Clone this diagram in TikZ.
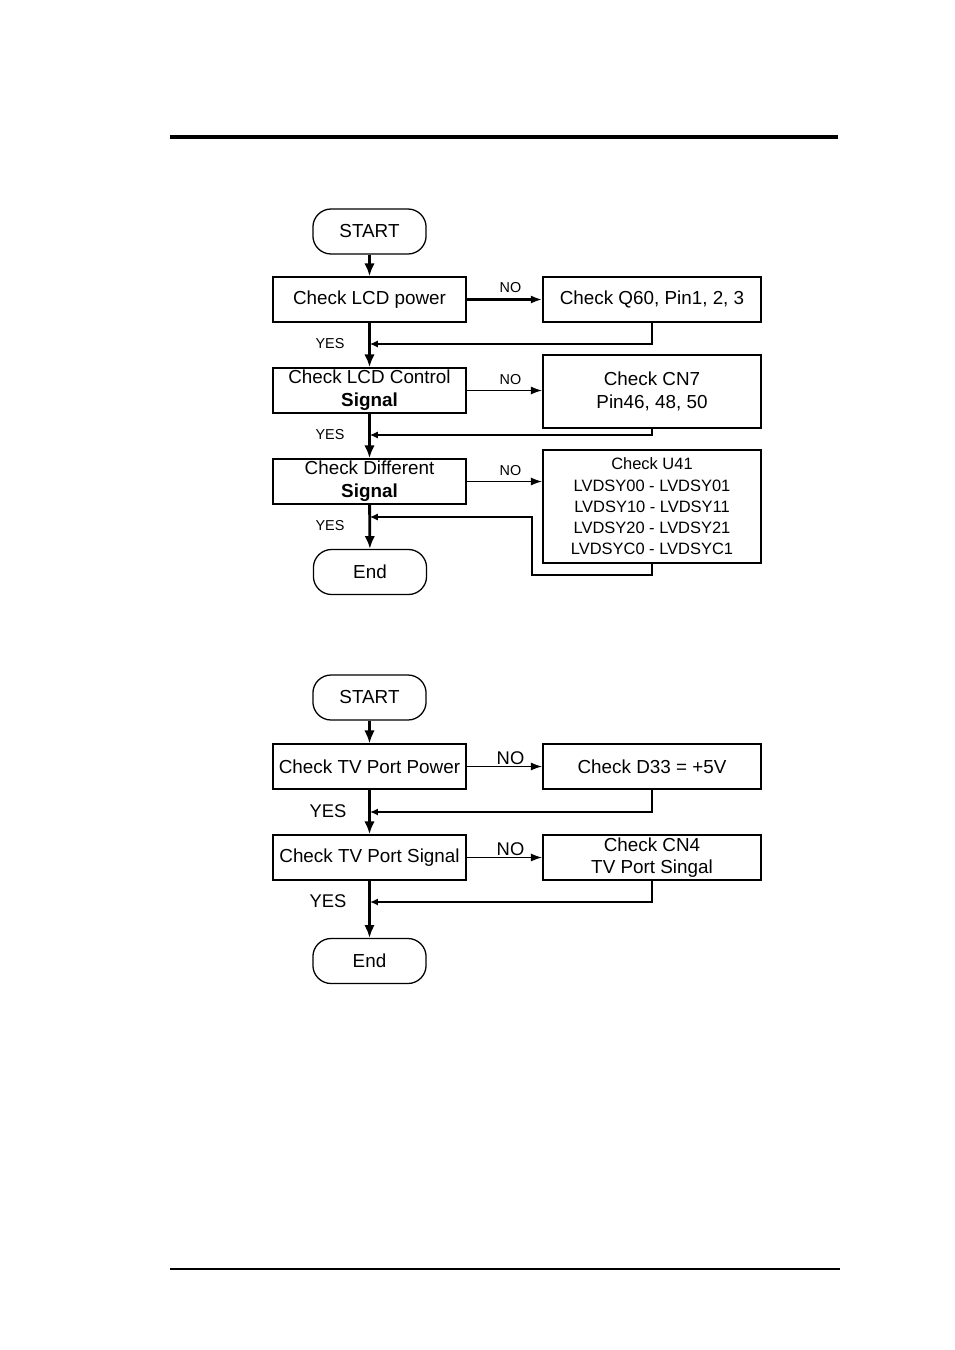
\documentclass[tikz,border=0pt]{standalone}
\usepackage{fontspec}
\setmainfont{Liberation Sans}
\usetikzlibrary{shapes.geometric, arrows.meta}

\begin{document}
\begin{tikzpicture}[x=0.22mm, y=-0.22mm]

  \tikzstyle{startstop} = [rectangle, rounded corners=4mm, minimum width=24.9mm, minimum height=9.9mm, inner sep=0pt, text centered, draw=black, line width=0.8pt, font=\fontsize{11.8}{14}\selectfont]
  \tikzstyle{process} = [rectangle, minimum width=42.5mm, minimum height=9.9mm, inner sep=0pt, align=center, draw=black, line width=1pt, font=\fontsize{11.8}{14.4}\selectfont]
  \tikzstyle{fix} = [process, minimum width=48mm]
  \tikzstyle{label} = [font=\fontsize{9}{10}\selectfont]
  \tikzstyle{biglabel} = [font=\fontsize{11.5}{13}\selectfont]

  \tikzstyle{arrow} = [line width=1.8pt, -{Latex[length=8pt, width=6.5pt]}]
  \tikzstyle{noarrow} = [line width=0.9pt, -{Latex[length=7pt, width=5pt]}]
  \tikzstyle{back} = [line width=0.7pt, -{Latex[length=5pt, width=4.5pt]}]

  \useasboundingbox (0,0) rectangle (954,1350);
  \fill[white] (0,0) rectangle (954,1350);

  % page rules
  \draw[line width=2.5pt] (170,137) -- (838,137);
  \draw[line width=1.3pt] (170,1269) -- (840,1269);

  % LCD flow
  \node (start1)   [startstop] at (369.5,231.5) {START};
  \node (lcdpower) [process] at (369.5,299.5) {Check LCD power};
  \node (q60)      [fix] at (652,299.5) {Check Q60, Pin1, 2, 3};
  \node (lcdctrl)  [process] at (369.5,390.5) {Check LCD Control\\\textbf{Signal}};
  \node (cn7)      [fix, minimum height=16mm] at (652,391.5) {Check CN7\\Pin46, 48, 50};
  \node (diff)     [process] at (369.5,481.5) {Check Different\\\textbf{Signal}};
  \node (u41)      [fix, minimum height=24.9mm, font=\fontsize{10.3}{13.3}\selectfont] at (652,506.5)
    {Check U41\\LVDSY00 - LVDSY01\\LVDSY10 - LVDSY11\\LVDSY20 - LVDSY21\\LVDSYC0 - LVDSYC1};
  \node (end1)     [startstop] at (370,572) {End};

  \coordinate (join1) at (370,344);
  \coordinate (join2) at (370,435);
  \coordinate (join3) at (370,517);
  \coordinate (loop3) at (532,575);

  \draw [arrow] (start1) -- (lcdpower);
  \draw [arrow] (lcdpower) -- (lcdctrl);
  \draw [arrow] (lcdctrl) -- (diff);
  \draw [arrow] (diff) -- (end1);

  \draw [noarrow, line width=1.3pt] (lcdpower) -- node[label, above, pos=0.58] {NO} (q60);
  \draw [noarrow] (lcdctrl.east) -- node[label, above, pos=0.58] {NO} (lcdctrl.east -| cn7.west);
  \draw [noarrow] (diff.east) -- node[label, above, pos=0.58] {NO} (diff.east -| u41.west);

  \draw [back] (q60.south) |- (join1);
  \draw [back] (cn7.south) |- (join2);
  \draw [back] (u41.south) |- (loop3) |- (join3);

  \node (yes1) [label] at (330,344) {YES};
  \node (yes2) [label] at (330,435) {YES};
  \node (yes3) [label] at (330,526) {YES};

  % TV port flow
  \node (start2)   [startstop] at (369.5,697.5) {START};
  \node (tvpower)  [process] at (369.5,766.5) {Check TV Port Power};
  \node (d33)      [fix] at (652,766.5) {Check D33 = +5V};
  \node (tvsignal) [process] at (369.5,857.5) {Check TV Port Signal};
  \node (cn4)      [fix, font=\fontsize{11.8}{13.7}\selectfont] at (652,857.5) {Check CN4\\TV Port Singal};
  \node (end2)     [startstop] at (369.5,961) {End};

  \coordinate (join4) at (370,812);
  \coordinate (join5) at (370,902);

  \draw [arrow, line width=1.3pt] (start2) -- (tvpower);
  \draw [arrow] (tvpower) -- (tvsignal);
  \draw [arrow] (tvsignal) -- (end2);

  \draw [noarrow] (tvpower) -- node[biglabel, above, inner sep=1pt, pos=0.58] {NO} (d33);
  \draw [noarrow] (tvsignal) -- node[biglabel, above, inner sep=1pt, pos=0.58] {NO} (cn4);

  \draw [back, line width=1pt] (d33.south) |- (join4);
  \draw [back, line width=1pt] (cn4.south) |- (join5);

  \node (yes4) [biglabel] at (328,811) {YES};
  \node (yes5) [biglabel] at (328,901) {YES};

\end{tikzpicture}
\end{document}
